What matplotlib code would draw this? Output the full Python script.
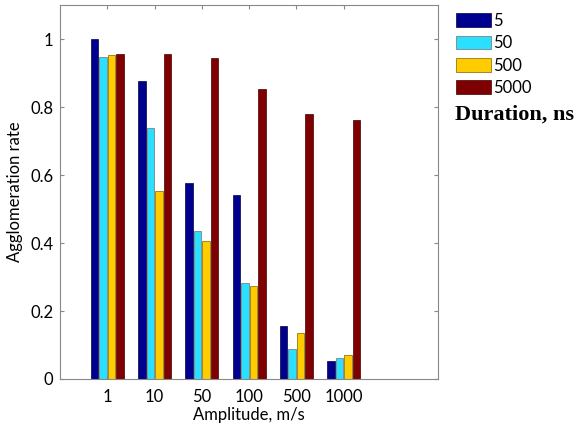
import numpy as np
import matplotlib.pyplot as plt

amplitudes = ['1', '10', '50', '100', '500', '1000']
durations = ['5', '50', '500', '5000']

# agglomeration rate per duration (ns), one value per amplitude
rate_5 = [1.0, 0.876, 0.578, 0.540, 0.157, 0.054]
rate_50 = [0.947, 0.738, 0.435, 0.281, 0.087, 0.062]
rate_500 = [0.953, 0.554, 0.407, 0.273, 0.136, 0.070]
rate_5000 = [0.955, 0.955, 0.944, 0.854, 0.780, 0.762]

colors = ['#00008F', '#2BDFFF', '#FFCC00', '#7F0000']
edges = ['#000040', '#707070', '#806000', '#400000']

plt.rcParams['font.family'] = ['Lato', 'DejaVu Sans']

fig = plt.figure(figsize=(5.78, 4.28), dpi=100)
ax = fig.add_axes([0.104, 0.1145, 0.654, 0.8735])

x = np.arange(1, len(amplitudes) + 1)
width = 0.155
offsets = [-0.27, -0.09, 0.09, 0.27]
series = [rate_5, rate_50, rate_500, rate_5000]
for vals, off, c, ec, lab in zip(series, offsets, colors, edges, durations):
    ax.bar(x + off, vals, width, color=c, edgecolor=ec, linewidth=0.5, label=lab)

ax.set_xlim(0, 8)
ax.set_ylim(0, 1.1)
ax.set_xticks(x)
ax.set_xticklabels(amplitudes)
ax.set_yticks([0, 0.2, 0.4, 0.6, 0.8, 1.0])
ax.set_yticklabels(['0', '0.2', '0.4', '0.6', '0.8', '1'])
ax.tick_params(direction='in', top=True, right=True, labelsize=12,
               color='#888888', length=3)
ax.tick_params(axis='x', pad=7)
ax.tick_params(axis='y', pad=5)
for s in ax.spines.values():
    s.set_color('#888888')
    s.set_linewidth(0.8)

ax.set_xlabel('Amplitude, m/s', fontsize=12, labelpad=2)
ax.set_ylabel('Agglomeration rate', fontsize=12, labelpad=5)

leg = ax.legend(loc='upper left', bbox_to_anchor=(1.03, 0.997), frameon=False,
                fontsize=12, handlelength=2.1, handleheight=0.9,
                handletextpad=0.1, labelspacing=0.38, borderaxespad=0)

fig.text(0.787, 0.733, 'Duration, ns', fontsize=16, fontweight='bold',
         family='Liberation Serif', ha='left', va='center')

fig.savefig('out.png', dpi=100)
